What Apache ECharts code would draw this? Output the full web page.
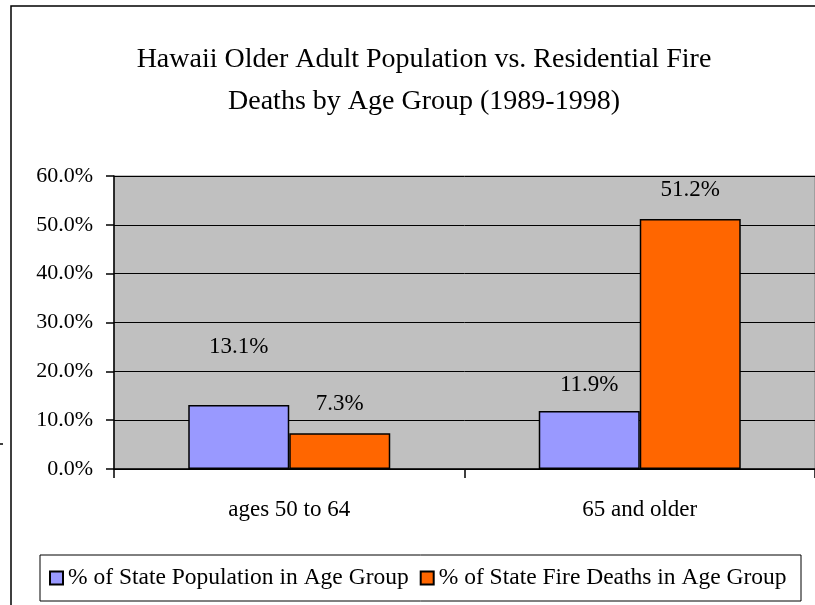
<!DOCTYPE html>
<html>
<head>
<meta charset="utf-8">
<script src="https://cdn.jsdelivr.net/npm/echarts@6/dist/echarts.min.js"></script>
<style>
  html, body { margin: 0; padding: 0; background: #fff; }
  #chart { width: 815px; height: 605px; }
</style>
</head>
<body>
<div id="chart"></div>
<script>
// 数据
const categories = ["ages 50 to 64", "65 and older"];
const popShare = [13.1, 11.9];
const fireDeathShare = [7.3, 51.2];
const seriesNames = ["% of State Population in Age Group", "% of State Fire Deaths in Age Group"];

const serif = '"Liberation Serif", "Times New Roman", serif';
const chart = echarts.init(document.getElementById("chart"));

// label offset tweak (excel nudged the first label up)
const withLabel = (arr, firstDist) =>
  arr.map((v, i) => (i === 0 && firstDist ? { value: v, label: { distance: firstDist } } : v));

const barStyle = (color) => ({ color: color, borderColor: "#000", borderWidth: 1.5 });

chart.setOption({
  animation: false,
  backgroundColor: "#fff",
  textStyle: { fontFamily: serif },
  title: {
    text: "Hawaii Older Adult Population vs. Residential Fire\nDeaths by Age Group (1989-1998)",
    left: 419,
    top: 34,
    textAlign: "center",
    textStyle: { fontFamily: serif, fontWeight: "normal", fontSize: 28, lineHeight: 42, color: "#000" }
  },
  graphic: [
    { type: "rect", shape: { x: 11, y: 6, width: 900, height: 700 }, style: { fill: null, stroke: "#000", lineWidth: 1.5 }, silent: true },
    { type: "rect", shape: { x: 40, y: 555, width: 761, height: 46 }, style: { fill: null, stroke: "#000", lineWidth: 1 }, silent: true },
    { type: "line", shape: { x1: 0, y1: 444, x2: 3, y2: 444 }, style: { stroke: "#000", lineWidth: 1.5 }, silent: true }
  ],
  legend: {
    left: 49,
    top: 566,
    itemWidth: 13,
    itemHeight: 13,
    itemGap: 11,
    icon: "rect",
    padding: 0,
    textStyle: { fontFamily: serif, fontSize: 23.5, color: "#000", padding: [2, 0, 0, 0] },
    data: seriesNames
  },
  grid: {
    left: 114,
    top: 176,
    right: -3,
    bottom: 136,
    show: true,
    backgroundColor: "#c0c0c0",
    borderColor: "#808080",
    borderWidth: 1
  },
  xAxis: {
    type: "category",
    data: categories,
    axisLine: { lineStyle: { color: "#000", width: 1.5 } },
    axisTick: { show: true, length: 9, lineStyle: { color: "#000", width: 1.5 } },
    axisLabel: { color: "#000", fontFamily: serif, fontSize: 23, margin: 29 }
  },
  yAxis: {
    type: "value",
    min: 0,
    max: 60,
    interval: 10,
    axisLine: { show: true, lineStyle: { color: "#000", width: 1.5 } },
    axisTick: { show: true, length: 8, lineStyle: { color: "#000", width: 1.5 } },
    axisLabel: { color: "#000", fontFamily: serif, fontSize: 22, margin: 21, formatter: (v) => v.toFixed(1) + "%" },
    splitLine: { lineStyle: { color: "#000", width: 1 } }
  },
  series: [
    {
      name: seriesNames[0],
      type: "bar",
      data: withLabel(popShare, 47),
      barWidth: 101,
      barGap: "0%",
      itemStyle: barStyle("#9999ff"),
      label: { show: true, position: "top", distance: 14, color: "#000", fontFamily: serif, fontSize: 23, formatter: (p) => p.value.toFixed(1) + "%" }
    },
    {
      name: seriesNames[1],
      type: "bar",
      data: fireDeathShare,
      barWidth: 101,
      barGap: "0%",
      itemStyle: barStyle("#ff6600"),
      label: { show: true, position: "top", distance: 18, color: "#000", fontFamily: serif, fontSize: 23, formatter: (p) => p.value.toFixed(1) + "%" }
    }
  ]
});
</script>
</body>
</html>
